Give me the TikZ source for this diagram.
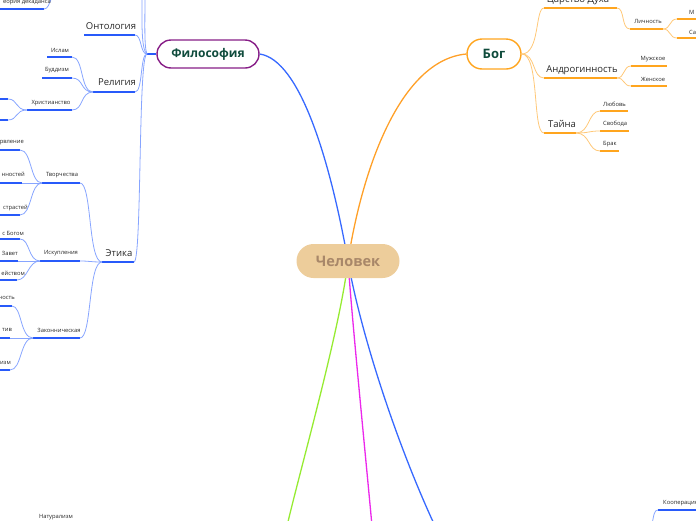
\documentclass[tikz,border=0pt]{standalone}
\usepackage{fontspec}
\setmainfont{Open Sans}
\definecolor{bl}{RGB}{135,165,255}
\definecolor{bd}{RGB}{40,90,250}
\definecolor{ol}{RGB}{255,200,120}
\definecolor{od}{RGB}{255,165,30}
\definecolor{txt}{RGB}{40,40,40}
\definecolor{mainblue}{RGB}{55,105,255}
\definecolor{mainorange}{RGB}{255,160,40}
\definecolor{maingreen}{RGB}{150,235,50}
\definecolor{mainmag}{RGB}{235,40,235}
\definecolor{philbd}{RGB}{135,30,135}
\definecolor{darkgreen}{RGB}{15,75,60}
\definecolor{tan}{RGB}{237,205,155}
\definecolor{tantext}{RGB}{168,135,105}
\tikzset{
  bconn/.style={draw=bl, line width=0.8pt},
  bbar/.style={draw=bd, line width=1.6pt},
  oconn/.style={draw=ol, line width=0.8pt},
  obar/.style={draw=od, line width=1.6pt},
  lbl/.style={inner sep=0pt, text=txt},
  small/.style={lbl, font=\fontsize{5.8}{7}\selectfont},
  mid/.style={lbl, font=\fontsize{9.5}{11}\selectfont},
  mainline/.style={line width=1.3pt},
  philnode/.style={draw=philbd, line width=1.4pt, fill=white, rounded corners=14pt,
    minimum width=102pt, minimum height=28pt, inner sep=0pt, text=darkgreen,
    font=\fontsize{12}{14}\selectfont\bfseries},
  godnode/.style={draw=od, line width=1.4pt, fill=white, rounded corners=15pt,
    minimum width=54pt, minimum height=30pt, inner sep=0pt, text=darkgreen,
    font=\fontsize{13}{15}\selectfont\bfseries},
  mannode/.style={fill=tan, rounded corners=17pt, minimum width=103pt,
    minimum height=34pt, inner sep=0pt, text=tantext,
    font=\fontsize{14.5}{16}\selectfont\bfseries},
}
\begin{document}
\begin{tikzpicture}[x=1pt,y=-1pt]
\useasboundingbox (0,0) rectangle (696,520);
\clip (0,0) rectangle (696,520);

% ---------- main nodes (top two) ----------
\node[philnode] (phil) at (208,54) {Философия};
\node[godnode] (god) at (494,54) {Бог};
\coordinate (manc) at (348,261);

% ---------- main connectors ----------
\coordinate (gEnd) at (287,526);
\coordinate (mEnd) at (372,526);
\coordinate (bEnd) at (435,526);
\draw[mainline, mainblue] (manc) .. controls (330,160) and (300,60) .. (phil.east);
\draw[mainline, mainorange] (manc) .. controls (362,170) and (400,60) .. (god.west);
\draw[mainline, maingreen] (manc) .. controls (340,330) and (300,470) .. (gEnd);
\draw[mainline, mainmag] (manc) .. controls (352,320) and (366,460) .. (mEnd);
\draw[mainline, mainblue] (manc) .. controls (360,330) and (395,440) .. (bEnd);

\node[mannode] (man) at (manc) {Человек};

% ---------- Philosophy branch ----------
\coordinate (phj) at (147,54);
\draw[bbar] (phil.west) -- (phj);
\coordinate (up1) at (142,-3);
\coordinate (up2) at (145,-3);
\draw[bconn] (phj) .. controls (141,50) and (142,20) .. (up1);
\draw[bconn] (phj) .. controls (144,48) and (145,20) .. (up2);

% Теория декаданса (cut at the left edge)
\coordinate (tdL) at (-2,9); \coordinate (tdR) at (44,9); \coordinate (tdUp) at (52,-3);
\draw[bbar] (tdL) -- (tdR);
\draw[bconn] (tdR) .. controls (48,9) and (49,4) .. (tdUp);
\node[small, anchor=east] (td) at (51,2.5) {еория декаданса};

% Онтология
\coordinate (ontL) at (84,35); \coordinate (ontR) at (135,35);
\draw[bbar] (ontL) -- (ontR);
\node[mid] (ont) at (111,26) {Онтология};
\draw[bconn] (ontR) .. controls (142,35) and (140,54) .. (phj);

% Религия
\coordinate (relL) at (93,92); \coordinate (relR) at (135,92);
\draw[bbar] (relL) -- (relR);
\node[mid] (rel) at (117,82) {Религия};
\draw[bconn] (relR) .. controls (143,92) and (140,54) .. (phj);

% Этика
\coordinate (ethL) at (102,262); \coordinate (ethR) at (134,262);
\draw[bbar] (ethL) -- (ethR);
\node[mid] (eth) at (119,253) {Этика};
\draw[bconn] (ethR) .. controls (142,262) and (138,54) .. (phj);

% Religion children
\coordinate (islL) at (47,57); \coordinate (islR) at (72,57);
\coordinate (budL) at (42,78); \coordinate (budR) at (72,78);
\coordinate (chrL) at (27,110); \coordinate (chrR) at (72,110);
\draw[bbar] (islL) -- (islR);
\draw[bbar] (budL) -- (budR);
\draw[bbar] (chrL) -- (chrR);
\node[small] (isl) at (60,50) {Ислам};
\node[small] (bud) at (57,70) {Буддизм};
\node[small] (chr) at (51,103) {Христианство};
\draw[bconn] (relL) .. controls (80,92) and (84,57) .. (islR);
\draw[bconn] (relL) .. controls (80,92) and (84,78) .. (budR);
\draw[bconn] (relL) .. controls (80,92) and (84,110) .. (chrR);

% Christianity children
\coordinate (c1L) at (-2,99); \coordinate (c1R) at (8,99);
\coordinate (c2L) at (-2,120); \coordinate (c2R) at (8,120);
\draw[bbar] (c1L) -- (c1R);
\draw[bbar] (c2L) -- (c2R);
\draw[bconn] (chrL) .. controls (15,110) and (18,99) .. (c1R);
\draw[bconn] (chrL) .. controls (15,110) and (18,120) .. (c2R);

% Ethics children
\coordinate (tvL) at (42,183); \coordinate (tvR) at (80,183);
\coordinate (isL) at (40,261); \coordinate (isR) at (80,261);
\coordinate (zaL) at (33,338); \coordinate (zaR) at (80,338);
\draw[bbar] (tvL) -- (tvR);
\draw[bbar] (isL) -- (isR);
\draw[bbar] (zaL) -- (zaR);
\node[small] (tv) at (62,175) {Творчества};
\node[small] (is) at (61,253) {Искупления};
\node[small] (za) at (59,330) {Законническая};
\draw[bconn] (ethL) .. controls (88,262) and (92,183) .. (tvR);
\draw[bconn] (ethL) .. controls (90,262) and (90,261) .. (isR);
\draw[bconn] (ethL) .. controls (88,262) and (92,338) .. (zaR);

% Творчества children (cut at the left edge)
\coordinate (t1L) at (-2,150); \coordinate (t1R) at (20,150);
\coordinate (t2L) at (-2,183); \coordinate (t2R) at (22,183);
\coordinate (t3L) at (-2,215); \coordinate (t3R) at (20,215);
\draw[bbar] (t1L) -- (t1R);
\draw[bbar] (t2L) -- (t2R);
\draw[bbar] (t3L) -- (t3R);
\node[small, anchor=east] (t1) at (24,143) {рвление};
\node[small, anchor=east] (t2) at (25,174) {нностей};
\node[small, anchor=east] (t3) at (28,208) {страстей};
\draw[bconn] (tvL) .. controls (30,183) and (32,150) .. (t1R);
\draw[bconn] (tvL) -- (t2R);
\draw[bconn] (tvL) .. controls (30,183) and (32,215) .. (t3R);

% Искупления children
\coordinate (i1L) at (-2,239); \coordinate (i1R) at (20,239);
\coordinate (i2L) at (-2,261); \coordinate (i2R) at (18,261);
\coordinate (i3L) at (-2,280); \coordinate (i3R) at (17,280);
\draw[bbar] (i1L) -- (i1R);
\draw[bbar] (i2L) -- (i2R);
\draw[bbar] (i3L) -- (i3R);
\node[small, anchor=east] (i1) at (24,233) {с Богом};
\node[small, anchor=east] (i2) at (18,253) {Завет};
\node[small, anchor=east] (i3) at (25,273) {ейством};
\draw[bconn] (isL) .. controls (28,261) and (30,239) .. (i1R);
\draw[bconn] (isL) -- (i2R);
\draw[bconn] (isL) .. controls (28,261) and (28,280) .. (i3R);

% Законническая children
\coordinate (z1L) at (-2,306); \coordinate (z1R) at (12,306);
\coordinate (z2L) at (-2,338); \coordinate (z2R) at (10,338);
\coordinate (z3L) at (-2,370); \coordinate (z3R) at (10,370);
\draw[bbar] (z1L) -- (z1R);
\draw[bbar] (z2L) -- (z2R);
\draw[bbar] (z3L) -- (z3R);
\node[small, anchor=east] (z1) at (15,298) {ность};
\node[small, anchor=east] (z2) at (12,330) {тив};
\node[small, anchor=east] (z3) at (11,363) {изм};
\draw[bconn] (zaL) .. controls (20,338) and (22,306) .. (z1R);
\draw[bconn] (zaL) -- (z2R);
\draw[bconn] (zaL) .. controls (20,338) and (22,370) .. (z3R);

% Bottom labels
\node[small] (nat) at (56,517) {Натурализм};
\coordinate (koL) at (658,510); \coordinate (koR) at (700,510); \coordinate (koD) at (652,524);
\draw[bbar] (koL) -- (koR);
\draw[bconn] (koL) .. controls (654,510) and (654,515) .. (koD);
\node[small, anchor=west] (ko) at (663,503) {Кооперация};

% ---------- God branch ----------
\coordinate (cdL) at (544,8); \coordinate (cdR) at (617,8);
\coordinate (anL) at (544,78); \coordinate (anR) at (617,78);
\coordinate (taL) at (544,133); \coordinate (taR) at (576,133);
\draw[obar] (cdL) -- (cdR);
\draw[obar] (anL) -- (anR);
\draw[obar] (taL) -- (taR);
\node[mid] (cd) at (578,0) {Царство Духа};
\node[mid] (an) at (582,70) {Андрогинность};
\node[mid] (ta) at (562,124) {Тайна};
\draw[oconn] (god.east) .. controls (540,54) and (535,8) .. (cdL);
\draw[oconn] (god.east) .. controls (536,54) and (532,78) .. (anL);
\draw[oconn] (god.east) .. controls (540,54) and (532,133) .. (taL);

% Личность
\coordinate (liL) at (630,29); \coordinate (liR) at (663,29);
\draw[obar] (liL) -- (liR);
\node[small] (li) at (648,21) {Личность};
\draw[oconn] (cdR) .. controls (625,8) and (621,29) .. (liL);
\coordinate (l1L) at (677,19); \coordinate (l1R) at (700,19);
\coordinate (l2L) at (677,38); \coordinate (l2R) at (700,38);
\draw[obar] (l1L) -- (l1R);
\draw[obar] (l2L) -- (l2R);
\node[small, anchor=west] (l1) at (689,12) {М};
\node[small, anchor=west] (l2) at (689,32) {Са};
\draw[oconn] (liR) .. controls (671,29) and (669,19) .. (l1L);
\draw[oconn] (liR) .. controls (671,29) and (669,38) .. (l2L);

% Андрогинность children
\coordinate (a1L) at (631,66); \coordinate (a1R) at (667,66);
\coordinate (a2L) at (631,86); \coordinate (a2R) at (667,86);
\draw[obar] (a1L) -- (a1R);
\draw[obar] (a2L) -- (a2R);
\node[small] (a1) at (653,59) {Мужское};
\node[small] (a2) at (653,79) {Женское};
\draw[oconn] (anR) .. controls (625,78) and (623,66) .. (a1L);
\draw[oconn] (anR) .. controls (625,78) and (623,86) .. (a2L);

% Тайна children
\coordinate (y1L) at (600,111); \coordinate (y1R) at (628,111);
\coordinate (y2L) at (600,131); \coordinate (y2R) at (629,131);
\coordinate (y3L) at (600,151); \coordinate (y3R) at (619,151);
\draw[obar] (y1L) -- (y1R);
\draw[obar] (y2L) -- (y2R);
\draw[obar] (y3L) -- (y3R);
\node[small, anchor=west] (y1) at (603,104) {Любовь};
\node[small, anchor=west] (y2) at (603,124) {Свобода};
\node[small, anchor=west] (y3) at (603,144) {Брак};
\draw[oconn] (taR) .. controls (590,133) and (588,111) .. (y1L);
\draw[oconn] (taR) .. controls (590,133) and (588,131) .. (y2L);
\draw[oconn] (taR) .. controls (590,133) and (588,151) .. (y3L);
\end{tikzpicture}
\end{document}
